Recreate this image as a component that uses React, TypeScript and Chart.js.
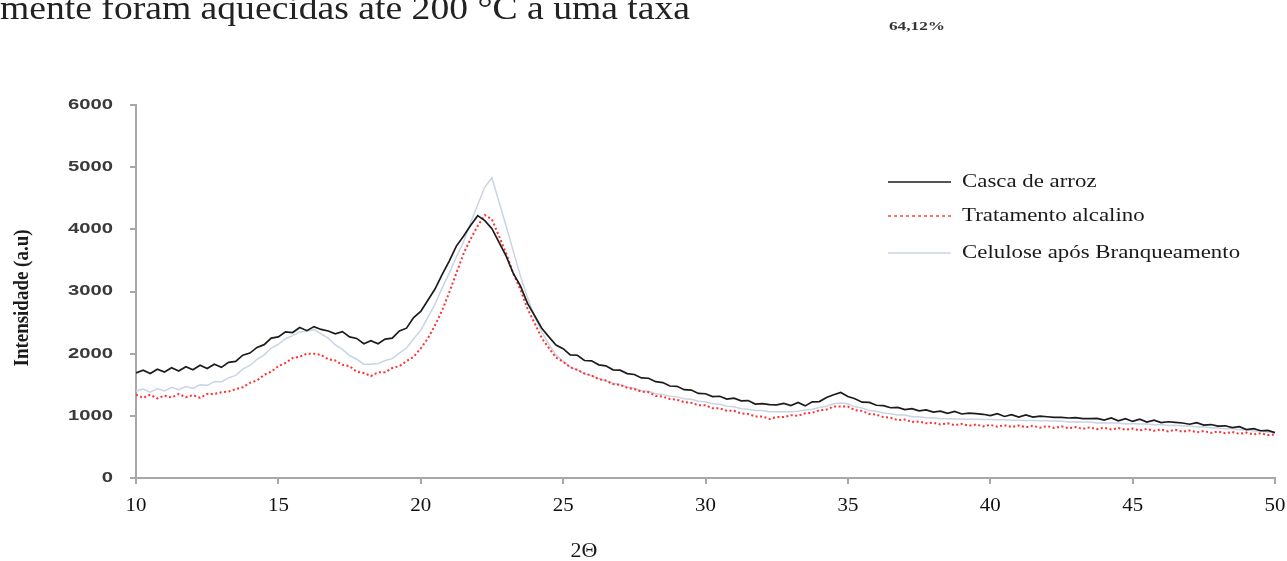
import React, { useEffect, useRef } from "react";
import { Chart, registerables } from "chart.js";

Chart.register(...registerables);

// ---- Data ----
const ANGLE_START = 10;
const ANGLE_STEP = 0.25;

const CASCA = [
  1690, 1735, 1680, 1750, 1705, 1775, 1720, 1790,
  1740, 1815, 1760, 1830, 1780, 1860, 1875, 1975,
  2010, 2100, 2145, 2250, 2270, 2350, 2340, 2420,
  2370, 2435, 2390, 2365, 2320, 2355, 2270, 2245,
  2160, 2210, 2160, 2235, 2250, 2365, 2410, 2580,
  2680, 2860, 3040, 3270, 3490, 3730, 3890, 4060,
  4220, 4140, 4010, 3790, 3570, 3290, 3090, 2810,
  2610, 2410, 2270, 2140, 2080, 1980, 1975, 1890,
  1885, 1820, 1805, 1740, 1735, 1680, 1665, 1610,
  1605, 1550, 1535, 1480, 1475, 1420, 1415, 1360,
  1355, 1310, 1315, 1270, 1285, 1240, 1245, 1190,
  1195, 1180, 1175, 1200, 1165, 1215, 1160, 1225,
  1230, 1295, 1340, 1375, 1310, 1275, 1220, 1215,
  1170, 1165, 1130, 1135, 1100, 1115, 1080, 1095,
  1060, 1075, 1040, 1070, 1030, 1045, 1035, 1025,
  1005, 1035, 990, 1020, 980, 1015, 980, 995,
  985, 975, 975, 965, 970, 955, 955, 960,
  930, 965, 920, 955, 910, 945, 900, 930,
  890, 905, 895, 885, 865, 890, 850, 860,
  835, 840, 810, 825, 780, 795, 760, 765,
  730,
];

const ALCALINO = [
  1340, 1290, 1340, 1280, 1325, 1295, 1350, 1300,
  1335, 1290, 1350, 1350, 1380, 1390, 1430, 1460,
  1530, 1570, 1660, 1710, 1800, 1850, 1930, 1950,
  2000, 2000, 1980, 1910, 1890, 1820, 1800, 1710,
  1690, 1640, 1700, 1700, 1770, 1800, 1880, 1950,
  2085, 2245, 2455, 2695, 2985, 3295, 3605, 3845,
  4055, 4230, 4160, 3890, 3610, 3290, 3030, 2720,
  2490, 2250, 2090, 1935, 1870, 1780, 1740, 1680,
  1650, 1590, 1570, 1510, 1500, 1450, 1430, 1390,
  1380, 1320, 1310, 1270, 1260, 1220, 1210, 1170,
  1170, 1120, 1120, 1080, 1080, 1040, 1030, 990,
  990, 950, 980, 980, 1010, 1000, 1040, 1050,
  1090, 1100, 1150, 1150, 1150, 1090, 1080, 1030,
  1020, 980, 970, 930, 940, 900, 910, 880,
  890, 860, 880, 850, 870, 840, 860, 830,
  855, 825, 850, 820, 845, 815, 840, 810,
  835, 805, 830, 800, 820, 790, 815, 785,
  810, 780, 805, 775, 795, 765, 790, 760,
  780, 750, 775, 745, 765, 735, 755, 725,
  750, 720, 740, 710, 730, 700, 720, 690,
  700,
];

const CELULOSE = [
  1400, 1430, 1380, 1440, 1400, 1460, 1420, 1470,
  1440, 1500, 1490, 1550, 1550, 1610, 1650, 1750,
  1810, 1910, 1980, 2090, 2150, 2240, 2290, 2350,
  2360, 2390, 2320, 2250, 2140, 2070, 1970, 1910,
  1830, 1830, 1840, 1890, 1920, 2010, 2090, 2240,
  2375, 2585, 2795, 3055, 3295, 3555, 3795, 4105,
  4395, 4680, 4830, 4440, 4050, 3650, 3250, 2900,
  2600, 2350, 2150, 1980, 1875, 1785, 1735, 1675,
  1645, 1595, 1565, 1525, 1505, 1465, 1445, 1405,
  1395, 1355, 1345, 1315, 1305, 1275, 1265, 1235,
  1225, 1195, 1185, 1155, 1145, 1115, 1105, 1085,
  1085, 1065, 1065, 1065, 1065, 1075, 1095, 1105,
  1135, 1155, 1195, 1205, 1195, 1145, 1125, 1085,
  1075, 1045, 1035, 1015, 1015, 985, 985, 970,
  970, 955, 955, 950, 950, 945, 945, 940,
  940, 935, 935, 930, 930, 925, 925, 920,
  920, 915, 915, 900, 905, 900, 900, 885,
  890, 885, 885, 870, 875, 870, 870, 855,
  860, 845, 850, 835, 835, 820, 825, 805,
  810, 790, 795, 775, 775, 755, 755, 735,
  730,
];

const SERIES_NAMES = ["Casca de arroz", "Tratamento alcalino", "Celulose após Branqueamento"];
const X_TICKS = [10, 15, 20, 25, 30, 35, 40, 45, 50];
const Y_TICKS = [0, 1000, 2000, 3000, 4000, 5000, 6000];
const Y_TITLE = "Intensidade (a.u)";
const X_TITLE = "2Θ";
const TOP_TEXT = "mente foram aquecidas até 200 °C a uma taxa";
const SIDE_NOTE = "64,12%";

const toPoints = (arr: number[]) =>
  arr.map((v, i) => ({ x: ANGLE_START + i * ANGLE_STEP, y: v }));

function drawText(
  ctx: CanvasRenderingContext2D,
  text: string,
  x: number,
  y: number,
  font: string,
  color: string,
  opts: { sx?: number; width?: number; align?: "left" | "right" | "center"; baseline?: CanvasTextBaseline }
) {
  ctx.save();
  ctx.font = font;
  ctx.fillStyle = color;
  ctx.textBaseline = opts.baseline || "alphabetic";
  ctx.textAlign = "left";
  const mw = ctx.measureText(text).width;
  const sx = opts.width ? opts.width / mw : opts.sx || 1;
  const w = mw * sx;
  const align = opts.align || "left";
  const left = align === "right" ? x - w : align === "center" ? x - w / 2 : x;
  ctx.translate(left, y);
  ctx.scale(sx, 1);
  ctx.fillText(text, 0, 0);
  ctx.restore();
}

const COLORS = ["#1c1c1c", "#ff3030", "#c9d4e4"];

const decorPlugin = {
  id: "decor",
  afterDraw(chart: any) {
    const ctx: CanvasRenderingContext2D = chart.ctx;
    const xs = chart.scales.x;
    const ys = chart.scales.y;

    // y tick labels
    ctx.save();
    ctx.font = 'bold 14px "Liberation Sans"';
    const ySx = 45 / ctx.measureText("6000").width;
    ctx.restore();
    Y_TICKS.forEach((v) => {
      drawText(ctx, String(v), 113, ys.getPixelForValue(v), 'bold 14px "Liberation Sans"', "#3a3a3a", {
        sx: ySx,
        align: "right",
        baseline: "middle",
      });
    });

    // x tick labels
    X_TICKS.forEach((v) => {
      drawText(ctx, String(v), xs.getPixelForValue(v), 511, '19px "Liberation Serif"', "#111", {
        sx: 1.1,
        align: "center",
      });
    });

    // y title (rotated)
    ctx.save();
    ctx.translate(23, 298);
    ctx.rotate(-Math.PI / 2);
    ctx.scale(1, 1.15);
    drawText(ctx, Y_TITLE, 0, 0, 'bold 18px "Liberation Serif"', "#1a1a1a", {
      width: 137,
      align: "center",
      baseline: "middle",
    });
    ctx.restore();

    // x title
    drawText(ctx, X_TITLE, 584, 557, '20px "Liberation Serif"', "#1a1a1a", { sx: 1.1, align: "center" });

    // top text & note
    drawText(ctx, TOP_TEXT, 0, 19, '34px "Liberation Serif"', "#222", { width: 690 });
    drawText(ctx, SIDE_NOTE, 889, 30, 'bold 13px "Liberation Serif"', "#333", { width: 56 });

    // legend
    const rows = [182, 216, 253];
    rows.forEach((ry, i) => {
      ctx.save();
      ctx.beginPath();
      ctx.strokeStyle = i === 1 ? "#ff5050" : COLORS[i];
      ctx.lineWidth = i === 0 ? 1.5 : 1.6;
      if (i === 1) ctx.setLineDash([3, 3]);
      ctx.moveTo(888, ry);
      ctx.lineTo(951, ry);
      ctx.stroke();
      ctx.restore();
      drawText(ctx, SERIES_NAMES[i], 962, ry, '18px "Liberation Serif"', "#1a1a1a", {
        sx: 1.27,
        baseline: "middle",
      });
    });
  },
};

export default function App() {
  const ref = useRef<HTMLCanvasElement>(null);

  useEffect(() => {
    if (!ref.current) return;
    const chart = new Chart(ref.current, {
      type: "line",
      data: {
        datasets: [
          {
            label: SERIES_NAMES[0],
            data: toPoints(CASCA),
            borderColor: COLORS[0],
            borderWidth: 1.7,
            pointRadius: 0,
            tension: 0,
          },
          {
            label: SERIES_NAMES[1],
            data: toPoints(ALCALINO),
            borderColor: COLORS[1],
            borderWidth: 2,
            borderDash: [2, 2.5],
            pointRadius: 0,
            tension: 0,
          },
          {
            label: SERIES_NAMES[2],
            data: toPoints(CELULOSE),
            borderColor: COLORS[2],
            borderWidth: 1.5,
            pointRadius: 0,
            tension: 0,
          },
        ],
      },
      options: {
        animation: false,
        responsive: false,
        devicePixelRatio: 1,
        layout: { padding: { left: 96, right: 12, top: 105, bottom: 53 } },
        plugins: { legend: { display: false }, tooltip: { enabled: false } },
        scales: {
          x: {
            type: "linear",
            min: 10,
            max: 50,
            ticks: { display: false, stepSize: 5 },
            grid: { drawOnChartArea: false, drawTicks: true, tickLength: 6, color: "#a8a8a8", lineWidth: 2 },
            border: { display: true, color: "#a8a8a8", width: 2 },
            afterFit: (s: any) => {
              s.height = 30;
            },
          },
          y: {
            type: "linear",
            min: 0,
            max: 6000,
            ticks: { display: false, stepSize: 1000 },
            grid: { drawOnChartArea: false, drawTicks: true, tickLength: 6, color: "#a8a8a8", lineWidth: 2 },
            border: { display: true, color: "#a8a8a8", width: 2 },
            afterFit: (s: any) => {
              s.width = 40;
            },
          },
        },
      },
      plugins: [decorPlugin],
    });
    return () => chart.destroy();
  }, []);

  return (
    <div
      style={{
        position: "fixed",
        left: 0,
        top: 0,
        width: 1287,
        height: 561,
        background: "#fff",
        overflow: "hidden",
      }}
    >
      <canvas ref={ref} width={1287} height={561} style={{ display: "block" }} />
    </div>
  );
}
